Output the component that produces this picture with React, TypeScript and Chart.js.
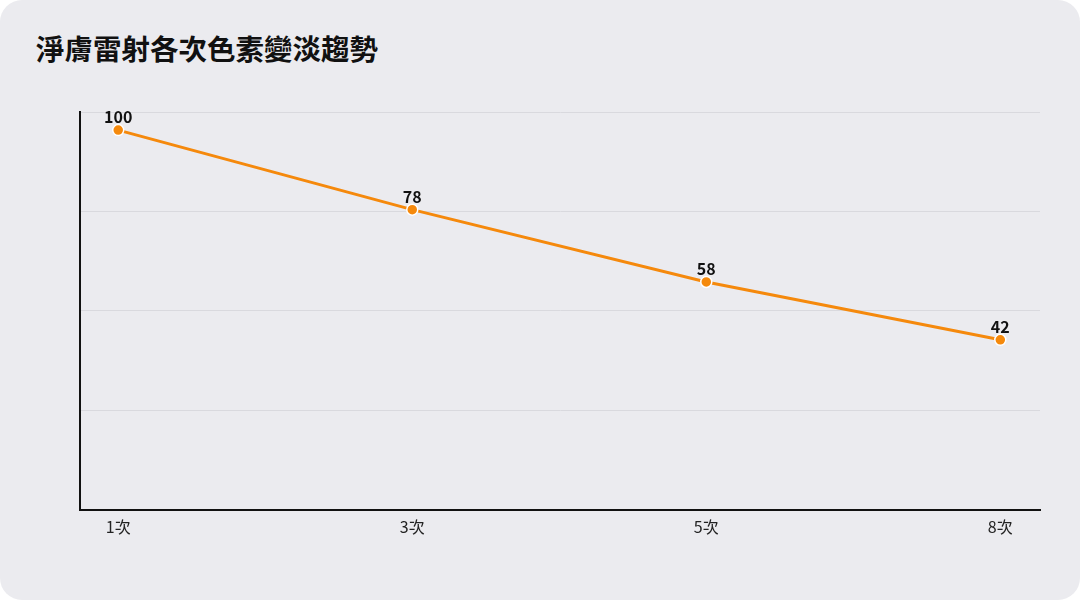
import React, { useEffect, useRef } from "react";
import { Chart, registerables } from "chart.js";

Chart.register(...registerables);

const title = "淨膚雷射各次色素變淡趨勢";
const categories = ["1次", "3次", "5次", "8次"];
const values = [100, 78, 58, 42];
const yMin = -5;
const yMax = 105;

const FONT = '"Noto Sans CJK TC", "Noto Sans", sans-serif';

const pointLabels = {
  id: "pointLabels",
  afterDatasetsDraw(chart: any) {
    const ctx = chart.ctx;
    const meta = chart.getDatasetMeta(0);
    ctx.save();
    ctx.font = `bold 16px ${FONT}`;
    ctx.fillStyle = "#111111";
    ctx.textAlign = "center";
    ctx.textBaseline = "bottom";
    meta.data.forEach((pt: any, i: number) => {
      ctx.fillText(String(values[i]), pt.x, pt.y - 5);
    });
    ctx.restore();
  },
};

export default function App() {
  const ref = useRef<HTMLCanvasElement>(null);
  useEffect(() => {
    document.body.style.margin = "0";
    const chart = new Chart(ref.current!, {
      type: "line",
      data: {
        datasets: [
          {
            data: values.map((v, i) => ({ x: i, y: v })),
            borderColor: "#f5890c",
            backgroundColor: "#f5890c",
            borderWidth: 3,
            pointRadius: 5.5,
            pointBorderColor: "#ffffff",
            pointBorderWidth: 1.5,
            pointBackgroundColor: "#f5890c",
            tension: 0,
          },
        ],
      },
      options: {
        animation: false,
        responsive: false,
        layout: { padding: { left: 80, right: 40, top: 112, bottom: 55 } },
        plugins: { legend: { display: false }, tooltip: { enabled: false } },
        scales: {
          x: {
            type: "linear",
            min: -0.13,
            max: 3.135,
            afterBuildTicks: (scale: any) => {
              scale.ticks = categories.map((_, i) => ({ value: i }));
            },
            ticks: {
              callback: (v: any) => categories[v as number] ?? "",
              font: { size: 16, family: FONT },
              color: "#222222",
              padding: 8,
              maxRotation: 0,
              autoSkip: false,
            },
            grid: { display: false, drawTicks: false },
            border: { display: true, color: "#111111", width: 2 },
          },
          y: {
            min: yMin,
            max: yMax,
            ticks: { display: false, count: 5 },
            grid: { color: "#d9d9de", lineWidth: 1, drawTicks: false },
            border: { display: true, color: "#111111", width: 2 },
          },
        },
      },
      plugins: [pointLabels],
    });
    return () => chart.destroy();
  }, []);

  return (
    <div style={{ position: "fixed", left: 0, top: 0, width: 1080, height: 600, background: "#ffffff" }}>
      <div
        style={{
          position: "absolute",
          left: 0,
          top: 0,
          width: 1080,
          height: 600,
          background: "#ebebef",
          borderRadius: 22,
        }}
      >
        <div
          style={{
            position: "absolute",
            left: 36,
            top: 28,
            fontFamily: FONT,
            fontWeight: 700,
            fontSize: 28.5,
            color: "#111111",
            lineHeight: "40px",
          }}
        >
          {title}
        </div>
        <canvas ref={ref} width={1080} height={600} style={{ position: "absolute", left: 0, top: 0 }} />
      </div>
    </div>
  );
}
